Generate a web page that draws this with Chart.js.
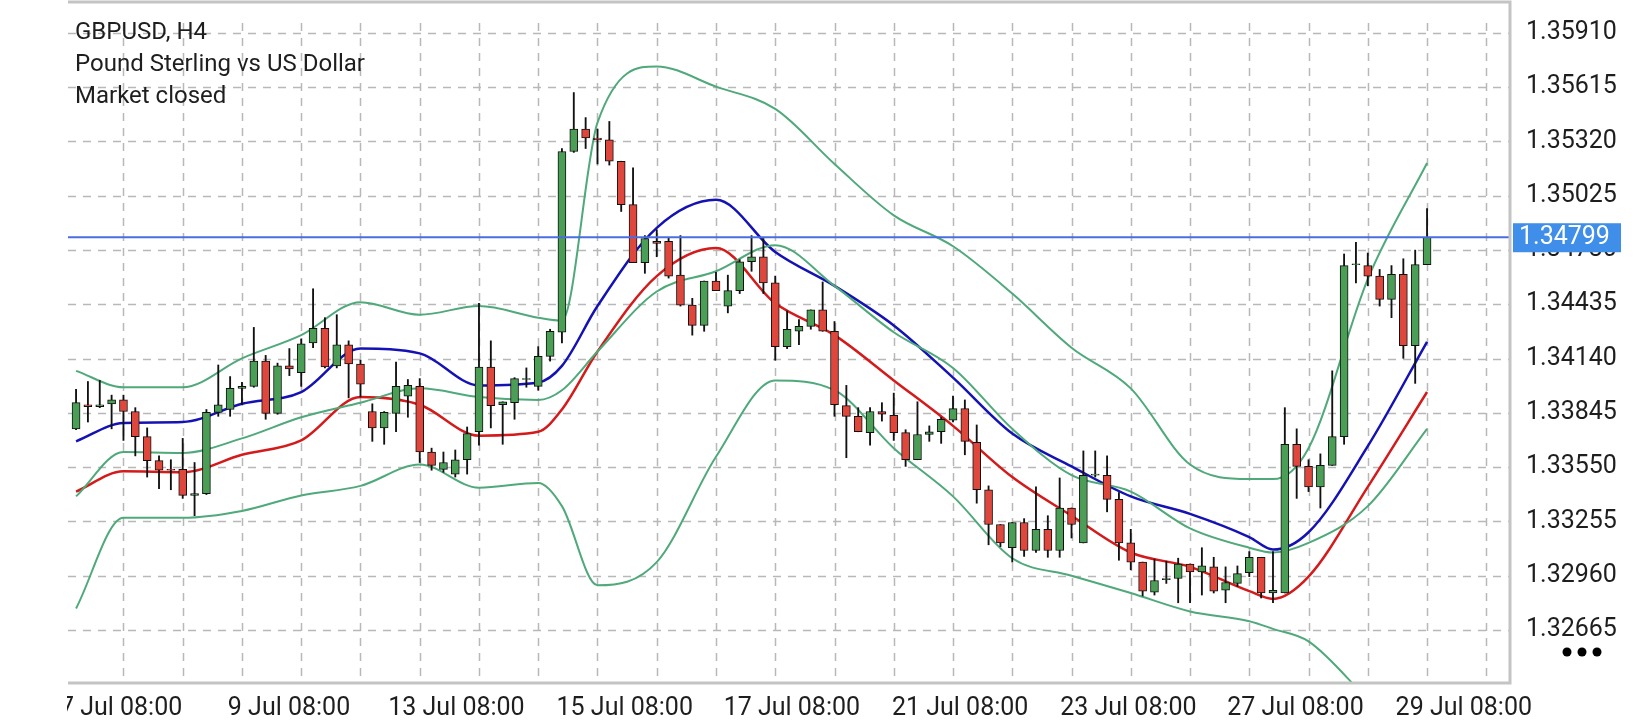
<!DOCTYPE html>
<html>
<head>
<meta charset="utf-8">
<script src="https://cdn.jsdelivr.net/npm/chart.js@4"></script>
<style>
  html, body { margin: 0; padding: 0; background: #fff; }
</style>
</head>
<body>
<canvas id="chart" width="1640" height="720"></canvas>
<script>
const symbolLines = ["GBPUSD, H4", "Pound Sterling vs US Dollar", "Market closed"];

// H4 candles, one per bar index 0..114
const opens = [1.33758,1.33889,1.33879,1.33894,1.33915,1.33852,1.33716,1.33585,1.33538,1.33538,
  1.33396,1.33406,1.33847,1.33863,1.33978,1.33989,1.34126,1.33842,1.34100,1.34063,
  1.34225,1.34304,1.34100,1.34215,1.34110,1.33852,1.33763,1.33842,1.33936,1.33989,
  1.33632,1.33538,1.33512,1.33590,1.33742,1.34094,1.33889,1.33900,1.34026,1.33989,
  1.34152,1.34283,1.35265,1.35386,1.35338,1.35328,1.35212,1.34976,1.34661,1.34777,
  1.34777,1.34593,1.34430,1.34320,1.34561,1.34425,1.34509,1.34666,1.34693,1.34551,
  1.34205,1.34288,1.34315,1.34404,1.34288,1.33884,1.33826,1.33737,1.33852,1.33831,
  1.33737,1.33590,1.33727,1.33742,1.33805,1.33868,1.33685,1.33427,1.33238,1.33112,
  1.33249,1.33097,1.33212,1.33097,1.33328,1.33138,1.33506,1.33506,1.33375,1.33138,
  1.33034,1.32871,1.32939,1.32945,1.33023,1.32981,1.33008,1.32881,1.32918,1.32976,
  1.33060,1.32866,1.32866,1.33674,1.33554,1.33443,1.33559,1.33716,1.34650,1.34645,
  1.34588,1.34461,1.34598,1.34210,1.34650];
const highs = [1.33973,1.34015,1.34021,1.33941,1.33941,1.33873,1.33763,1.33611,1.33590,1.33706,
  1.33575,1.33863,1.34105,1.34042,1.34010,1.34309,1.34157,1.34115,1.34194,1.34246,
  1.34519,1.34362,1.34378,1.34236,1.34131,1.33894,1.33852,1.34120,1.34026,1.34031,
  1.33653,1.33632,1.33643,1.33768,1.34440,1.34236,1.33905,1.34036,1.34089,1.34205,
  1.34299,1.35281,1.35585,1.35449,1.35386,1.35428,1.35212,1.35176,1.34808,1.34840,
  1.34798,1.34808,1.34467,1.34561,1.34608,1.34593,1.34677,1.34808,1.34792,1.34588,
  1.34398,1.34351,1.34404,1.34556,1.34341,1.33994,1.33873,1.33873,1.33900,1.33952,
  1.33753,1.33905,1.33774,1.33821,1.33936,1.33915,1.33779,1.33448,1.33238,1.33249,
  1.33270,1.33443,1.33286,1.33491,1.33328,1.33638,1.33638,1.33611,1.33412,1.33212,
  1.33034,1.33050,1.33039,1.33055,1.33023,1.33112,1.33060,1.33008,1.33013,1.33091,
  1.33060,1.33091,1.33873,1.33758,1.33590,1.33622,1.34073,1.34708,1.34771,1.34713,
  1.34624,1.34645,1.34682,1.34729,1.34955];
const lows = [1.33753,1.33795,1.33873,1.33758,1.33695,1.33611,1.33496,1.33433,1.33427,1.33380,
  1.33286,1.33401,1.33826,1.33826,1.33889,1.33984,1.33810,1.33837,1.34047,1.33989,
  1.34199,1.34089,1.34089,1.33926,1.33931,1.33690,1.33674,1.33742,1.33821,1.33575,
  1.33533,1.33522,1.33496,1.33512,1.33669,1.33763,1.33674,1.33810,1.33984,1.33968,
  1.34126,1.34225,1.35260,1.35281,1.35197,1.35191,1.34939,1.34661,1.34603,1.34693,
  1.34577,1.34425,1.34267,1.34288,1.34509,1.34388,1.34493,1.34614,1.34493,1.34131,
  1.34194,1.34215,1.34299,1.34288,1.33826,1.33601,1.33742,1.33669,1.33800,1.33695,
  1.33554,1.33590,1.33690,1.33679,1.33795,1.33617,1.33354,1.33128,1.33118,1.33034,
  1.33065,1.33086,1.33060,1.33060,1.33165,1.33138,1.33496,1.33307,1.33044,1.32992,
  1.32850,1.32855,1.32918,1.32813,1.32813,1.32855,1.32866,1.32813,1.32902,1.32955,
  1.32839,1.32813,1.32866,1.33380,1.33417,1.33328,1.33559,1.33674,1.34551,1.34535,
  1.34425,1.34362,1.34141,1.34005,1.34650];
const closes = [1.33900,1.33879,1.33889,1.33915,1.33852,1.33716,1.33585,1.33533,1.33533,1.33396,
  1.33406,1.33847,1.33889,1.33978,1.33989,1.34126,1.33842,1.34100,1.34084,1.34220,
  1.34304,1.34094,1.34215,1.34110,1.34000,1.33763,1.33847,1.33989,1.33994,1.33632,
  1.33559,1.33575,1.33590,1.33732,1.34094,1.33884,1.33905,1.34031,1.34031,1.34152,
  1.34288,1.35265,1.35386,1.35338,1.35328,1.35212,1.34976,1.34661,1.34792,1.34766,
  1.34588,1.34430,1.34320,1.34561,1.34509,1.34509,1.34666,1.34693,1.34551,1.34205,
  1.34299,1.34315,1.34404,1.34288,1.33889,1.33826,1.33742,1.33852,1.33837,1.33737,
  1.33590,1.33727,1.33742,1.33810,1.33868,1.33690,1.33427,1.33238,1.33138,1.33249,
  1.33097,1.33212,1.33097,1.33328,1.33238,1.33506,1.33512,1.33375,1.33138,1.33034,
  1.32876,1.32934,1.32945,1.33023,1.32981,1.33013,1.32876,1.32923,1.32971,1.33060,
  1.32866,1.32881,1.33674,1.33554,1.33443,1.33559,1.33716,1.34645,1.34655,1.34588,
  1.34461,1.34598,1.34210,1.34650,1.34799];

// indicator lines, read at these bar indices
const lineBars = [0,4,9,14,19,24,29,34,39,41,44,49,54,59,64,69,74,79,84,89,94,99,101,104,109,114];
const bbUpper = [1.34073,1.33984,1.33984,1.34141,1.34267,1.34446,1.34378,1.34425,1.34362,1.34346,1.35422,1.35727,1.35617,1.35496,1.35197,1.34918,1.34750,1.34493,1.34199,1.33978,1.33564,1.33485,1.33485,1.33653,1.34572,1.35202];
const bbMiddle = [1.33391,1.33632,1.33627,1.33706,1.33821,1.33900,1.33978,1.33931,1.33915,1.33968,1.34178,1.34504,1.34614,1.34756,1.34535,1.34283,1.34089,1.33758,1.33506,1.33417,1.33217,1.33112,1.33086,1.33138,1.33338,1.33758];
const bbLower = [1.32782,1.33275,1.33275,1.33312,1.33396,1.33448,1.33564,1.33438,1.33464,1.33338,1.32908,1.33034,1.33606,1.34021,1.33968,1.33653,1.33391,1.33055,1.32960,1.32866,1.32766,1.32713,1.32671,1.32603,1.32288,1.31973];
const maBlue = [1.33690,1.33790,1.33795,1.33894,1.33958,1.34194,1.34168,1.33994,1.34010,1.34100,1.34425,1.34850,1.35002,1.34719,1.34535,1.34320,1.34036,1.33732,1.33554,1.33391,1.33296,1.33170,1.33102,1.33196,1.33664,1.34231];
const maRed = [1.33417,1.33527,1.33522,1.33617,1.33695,1.33931,1.33889,1.33721,1.33742,1.33863,1.34178,1.34588,1.34740,1.34440,1.34267,1.34021,1.33774,1.33496,1.33286,1.33086,1.33008,1.32876,1.32834,1.32955,1.33443,1.33958];

const priceTicks = [1.35910,1.35615,1.35320,1.35025,1.34730,1.34435,1.34140,1.33845,1.33550,1.33255,1.32960,1.32665];
const timeLabels = ["7 Jul 08:00","9 Jul 08:00","13 Jul 08:00","15 Jul 08:00","17 Jul 08:00","21 Jul 08:00","23 Jul 08:00","27 Jul 08:00","29 Jul 08:00"];
const timeLabelBars = [3.8,17.97,32.1,46.3,60.4,74.6,88.8,102.9,117.1];
const gridBars = [4,9,14,19,24,29,34,39,44,49,54,59,64,69,74,79,84,89,94,99,104,109,114,119];
const lastPrice = 1.34799;

const UP = "#4b9e55", DOWN = "#e0473c", BAND = "#4fa97a";

const wicks = opens.map((o, i) => ({ x: i, y: [lows[i], highs[i]] }));
const bodies = opens.map((o, i) => ({ x: i, y: [o, closes[i]] }));
const bodyColors = opens.map((o, i) => closes[i] >= o ? UP : DOWN);
const pts = arr => arr.map((v, i) => ({ x: lineBars[i], y: v }));

function lineSet(data, color, width) {
  return {
    type: "line", data: pts(data), borderColor: color, borderWidth: width,
    pointRadius: 0, cubicInterpolationMode: "monotone", order: 10, fill: false
  };
}

const decor = {
  id: "decor",
  beforeDatasetsDraw(chart) {
    const { ctx, chartArea: a, scales: { x, y } } = chart;
    ctx.save();
    ctx.strokeStyle = "#b8b8b8";
    ctx.lineWidth = 1.5;
    ctx.setLineDash([8, 7]);
    gridBars.forEach(b => {
      const px = Math.round(x.getPixelForValue(b)) + 0.5;
      ctx.beginPath(); ctx.moveTo(px, a.top); ctx.lineTo(px, a.bottom); ctx.stroke();
    });
    priceTicks.forEach(p => {
      const py = Math.round(y.getPixelForValue(p)) + 0.5;
      ctx.beginPath(); ctx.moveTo(a.left, py); ctx.lineTo(a.right, py); ctx.stroke();
    });
    ctx.restore();
  },
  afterDatasetsDraw(chart) {
    const { ctx, chartArea: a, scales: { y } } = chart;
    const py = y.getPixelForValue(lastPrice);
    ctx.save();
    ctx.strokeStyle = "#4a6ee0";
    ctx.lineWidth = 2;
    ctx.beginPath(); ctx.moveTo(a.left, py); ctx.lineTo(a.right, py); ctx.stroke();
    // text block
    ctx.fillStyle = "#1e1e1e";
    ctx.font = "24px Roboto";
    ctx.textBaseline = "middle";
    symbolLines.forEach((t, i) => ctx.fillText(t, 75, 33 + i * 32));
    ctx.restore();
  },
  afterDraw(chart) {
    const { ctx, chartArea: a, scales: { y } } = chart;
    const py = y.getPixelForValue(lastPrice);
    ctx.save();
    // first time label is cut at the plot's left edge
    ctx.fillStyle = "#fff";
    ctx.fillRect(0, a.bottom + 2, a.left - 1, 720 - a.bottom);
    ctx.strokeStyle = "#c4c4c4";
    ctx.lineWidth = 3;
    ctx.beginPath();
    ctx.moveTo(a.left, a.bottom); ctx.lineTo(a.right, a.bottom);
    ctx.lineTo(a.right, 2); ctx.lineTo(a.left, 2);
    ctx.stroke();
    ctx.fillStyle = "#3f8ee9";
    ctx.fillRect(a.right + 3, py - 14, 108, 29);
    ctx.fillStyle = "#ffffff";
    ctx.font = "25px Roboto";
    ctx.textBaseline = "middle";
    ctx.fillText(lastPrice.toFixed(5), a.right + 9, py + 1);
    ctx.fillStyle = "#000";
    [1567, 1582, 1597].forEach(cx => { ctx.beginPath(); ctx.arc(cx, 652, 4.5, 0, Math.PI * 2); ctx.fill(); });
    ctx.restore();
  }
};

new Chart(document.getElementById("chart").getContext("2d"), {
  type: "bar",
  data: {
    datasets: [
      { data: bodies, backgroundColor: bodyColors, borderColor: "#111", borderWidth: 1,
        borderSkipped: false, barThickness: 8, grouped: false, order: 1 },
      { data: wicks, backgroundColor: "#111", borderWidth: 0, barThickness: 1.2, grouped: false, order: 2 },
      lineSet(bbUpper, BAND, 2),
      lineSet(bbMiddle, BAND, 2),
      lineSet(bbLower, BAND, 2),
      lineSet(maBlue, "#1412b4", 2.5),
      lineSet(maRed, "#d41a1a", 2.5)
    ]
  },
  options: {
    responsive: false,
    animation: false,
    devicePixelRatio: 1,
    layout: { padding: { left: 68, top: 0, right: 0, bottom: 0 } },
    plugins: { legend: { display: false }, tooltip: { enabled: false } },
    scales: {
      x: {
        type: "linear", min: -0.68, max: 121, offset: false,
        grid: { display: false, offset: false }, border: { display: false },
        afterBuildTicks: s => { s.ticks = timeLabelBars.map(v => ({ value: v })); },
        afterFit: s => { s.height = 37; },
        ticks: {
          padding: 3, maxRotation: 0, autoSkip: false, color: "#1e1e1e",
          font: { family: "Roboto", size: 25 },
          callback: (v, i) => timeLabels[i]
        }
      },
      y: {
        position: "right", min: 1.32377, max: 1.35963,
        grid: { display: false }, border: { display: false },
        afterBuildTicks: s => { s.ticks = priceTicks.map(v => ({ value: v })); },
        afterFit: s => { s.width = 130; },
        ticks: {
          padding: 8, color: "#1e1e1e", font: { family: "Roboto", size: 25 },
          callback: v => v.toFixed(5)
        }
      }
    }
  },
  plugins: [decor]
});
</script>
</body>
</html>
